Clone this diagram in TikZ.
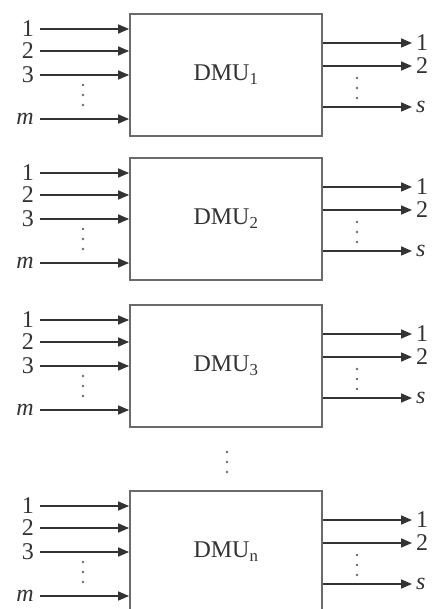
\documentclass[tikz,border=0pt]{standalone}
\usepackage{fontspec}
\setmainfont{Liberation Serif}
\usetikzlibrary{arrows.meta,positioning}
\definecolor{boxgray}{HTML}{6A6A6A}
\definecolor{inkgray}{HTML}{333333}

\begin{document}
\begin{tikzpicture}[
  x=1pt, y=-1pt,
  font=\fontsize{24}{27}\selectfont, text=inkgray,
  dmu/.style={draw=boxgray, line width=1.8pt, minimum width=192pt, minimum height=122pt, inner sep=0pt},
  inlbl/.style={inner xsep=6pt, inner ysep=2pt, anchor=east},
  outlbl/.style={inner xsep=4pt, inner ysep=2pt, anchor=west},
  arr/.style={-{Triangle[length=11pt,width=9pt]}, line width=1.6pt, inkgray},
  dotmark/.style={fill=boxgray, draw=none}
]
\useasboundingbox (0,0) rectangle (432,609);
\clip (0,0) rectangle (432,609);
\foreach \k/\t in {1/14, 2/158, 3/305, n/491} {
  \node[dmu] (d\k) at (226,\t+61) {DMU\textsubscript{\k}};
  % inputs
  \foreach \j/\dy/\lab in {1/15/1, 2/37/2, 3/61/3, 4/105/\textit{m}} {
    \node[inlbl] (in\k-\j) at (40,\t+\dy) {\lab};
    \draw[arr] (in\k-\j) -- (d\k.west |- in\k-\j);
  }
  % outputs
  \foreach \j/\dy/\lab in {1/29/1, 2/52/2, 3/93/\textit{s}} {
    \node[outlbl] (out\k-\j) at (412,\t+\dy) {\lab};
    \draw[arr] (d\k.east |- out\k-\j) -- (out\k-\j);
  }
  \foreach \dy in {71,81,91} \fill[dotmark] (83,\t+\dy) circle (1.4);
  \foreach \dy in {64,74,84} \fill[dotmark] (357,\t+\dy) circle (1.4);
}
\foreach \y in {452,462,472} \fill[dotmark] (227,\y) circle (1.4);
\end{tikzpicture}
\end{document}
